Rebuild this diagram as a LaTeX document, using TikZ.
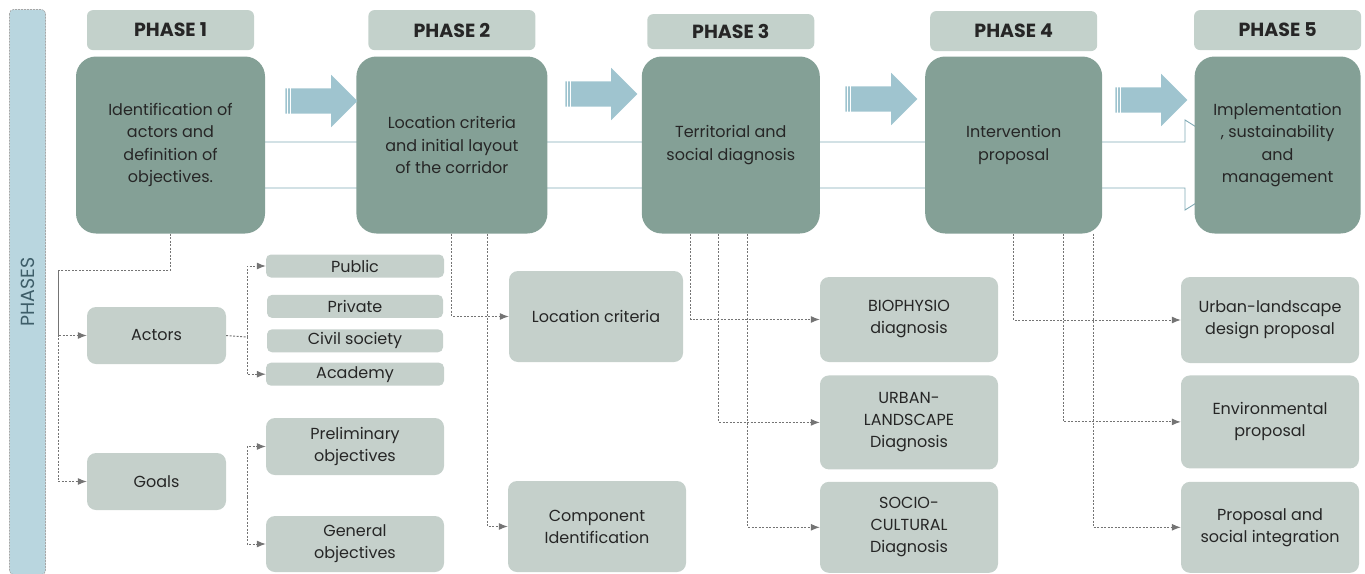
\documentclass[tikz,border=0pt]{standalone}
\usepackage{fontspec}
\setmainfont{Poppins}
\usetikzlibrary{positioning,shapes.arrows,arrows.meta,backgrounds}

\definecolor{boxdark}{HTML}{84A096}
\definecolor{boxlight}{HTML}{C5D0CB}
\definecolor{headfill}{HTML}{C3D1CB}
\definecolor{arrowblue}{HTML}{9FC4CF}
\definecolor{linkgray}{HTML}{747474}
\definecolor{barblue}{HTML}{B9D6DF}
\definecolor{bartext}{HTML}{3E5E69}
\definecolor{textdark}{HTML}{262626}
\definecolor{corridor}{HTML}{7FA9B4}

\tikzset{
	x=1pt, y=-1pt, % one unit is one pixel of the layout, y runs downwards
	>={Latex[length=9pt,width=7pt]}, % filled heads on the dashed links
	phasebox/.style={fill=boxdark, rounded corners=20pt, minimum height=177pt, align=center, text=textdark, font=\fontsize{16}{22.5}\selectfont}, % the five big phase boxes
	header/.style={fill=headfill, rounded corners=6pt, minimum width=167pt, minimum height=40pt, text=textdark, font=\bfseries\fontsize{19}{21}\selectfont}, % PHASE n labels
	subbox/.style={fill=boxlight, rounded corners=9pt, minimum width=178pt, align=center, text=textdark, font=\fontsize{16}{22}\selectfont}, % boxes below the phases
	thinbox/.style={subbox, rounded corners=5pt, minimum height=23pt}, % the flat actor boxes
	dashlink/.style={->, draw=linkgray, dash pattern=on 2pt off 1.5pt, line width=1pt}, % dotted connectors
	blockarrow/.style={single arrow, fill=arrowblue, draw=none, minimum height=72pt, inner xsep=0pt, inner ysep=12.5pt, single arrow head extend=13.5pt}, % big arrows between phases
}

\begin{document}
\begin{tikzpicture}
	\useasboundingbox (0,0) rectangle (1365,573);

	% side band
	\node[rotate=90, fill=barblue, draw=gray!70, dash pattern=on 2pt off 1pt, line width=0.6pt, rounded corners=4pt, minimum width=565pt, minimum height=36pt, text=bartext, font=\fontsize{19}{21}\selectfont] (bar) at (27.5,292) {PHASES};

	% phases
	\node[phasebox, minimum width=189pt] (b1) at (170.5,145) {Identification of\\actors and\\definition of\\objectives.};
	\node[phasebox, minimum width=191pt, right=91pt of b1] (b2) {Location criteria\\and initial layout\\of the corridor};
	\node[phasebox, minimum width=178pt, right=94pt of b2] (b3) {Territorial and\\social diagnosis};
	\node[phasebox, minimum width=177pt, right=105pt of b3] (b4) {Intervention\\proposal};
	\node[phasebox, minimum width=166pt, right=92pt of b4] (b5) {Implementation\\, sustainability\\and\\management};

	\node[header, above=6pt of b1] (h1) {PHASE 1};
	\node[header, above=6pt of b2] (h2) {PHASE 2};
	\node[header, above=7pt of b3, minimum height=35pt] (h3) {PHASE 3};
	\node[header, above=5pt of b4] (h4) {PHASE 4};
	\node[header, above=6pt of b5] (h5) {PHASE 5};

	\node[blockarrow] (a1) at (315,101) {};
	\node[blockarrow] (a2) at (595,94) {};
	\node[blockarrow] (a3) at (875,99) {};
	\node[blockarrow] (a4) at (1145,100) {};
	\foreach \a in {a1,a2,a3,a4}
		\foreach \s in {2.5,5.5}
			\draw[white, line width=0.9pt] ([xshift=\s pt]\a.before tail) -- ([xshift=\s pt]\a.after tail);

	% phase 1
	\node[subbox, minimum width=139pt, minimum height=57pt] (actors) at (156.5,335.5) {Actors};
	\node[subbox, minimum width=139pt, minimum height=57pt] (goals) at (156.5,481.5) {Goals};
	\node[thinbox] (public) at (355,266) {Public};
	\node[thinbox, minimum width=176pt, below=17pt of public] (private) {Private};
	\node[thinbox, minimum width=176pt, below=11pt of private] (civil) {Civil society};
	\node[thinbox, below=10pt of civil] (academy) {Academy};
	\node[subbox, minimum height=57pt] (prelim) at (355,446.5) {Preliminary\\objectives};
	\node[subbox, minimum height=56pt] (general) at (355,544) {General\\objectives};

	% phase 2
	\node[subbox, minimum width=174pt, minimum height=91pt] (loccrit) at (596,316.5) {Location criteria};
	\node[subbox, minimum height=91pt] (compid) at (597,526.5) {Component\\Identification};

	% phase 3
	\node[subbox, minimum height=85pt] (bio) at (909,319.5) {BIOPHYSIO\\diagnosis};
	\node[subbox, minimum height=94pt, below=13pt of bio] (urbdiag) {URBAN-\\LANDSCAPE\\Diagnosis};
	\node[subbox, minimum height=91pt, below=12pt of urbdiag] (socio) {SOCIO-\\CULTURAL\\Diagnosis};

	% phase 4
	\node[subbox, minimum height=86pt] (urbprop) at (1270,320) {Urban-landscape\\design proposal};
	\node[subbox, minimum height=93pt, below=12pt of urbprop] (env) {Environmental\\proposal};
	\node[subbox, minimum height=91pt, below=13pt of env] (propsoc) {Proposal and\\social integration};

	% corridor outline behind the phases
	\begin{pgfonlayer}{background}
		\draw[corridor, line width=0.9pt] (170,142) -- (1185,142) -- (1185,120) -- (1257,165) -- (1185,210) -- (1185,188) -- (170,188);
	\end{pgfonlayer}

	% links
	\coordinate (j1) at (58,270);
	\coordinate (j2) at (247,337);
	\coordinate (j3) at (247,497);
	\draw[dashlink] (b1.south) |- (j1) |- (goals.west);
	\draw[dashlink] (j1) |- (actors.west);
	\draw[dashlink, -] (actors.east) -- (j2);
	\draw[dashlink] (j2) |- (public.west);
	\draw[dashlink] (j2) |- (academy.west);
	\draw[dashlink] (j3) |- (prelim.west);
	\draw[dashlink] (j3) |- (general.west);

	\draw[dashlink] (b2.south) |- (loccrit.west);
	\draw[dashlink] ([xshift=35.5pt]b2.south) |- (compid.west);

	\draw[dashlink] ([xshift=-40pt]b3.south) |- (bio.west);
	\draw[dashlink] ([xshift=-12pt]b3.south) |- (urbdiag.west);
	\draw[dashlink] ([xshift=17pt]b3.south) |- (socio.west);

	\draw[dashlink] (b4.south) |- (urbprop.west);
	\draw[dashlink] ([xshift=49.5pt]b4.south) |- (env.west);
	\draw[dashlink] ([xshift=79.5pt]b4.south) |- (propsoc.west);
\end{tikzpicture}
\end{document}
